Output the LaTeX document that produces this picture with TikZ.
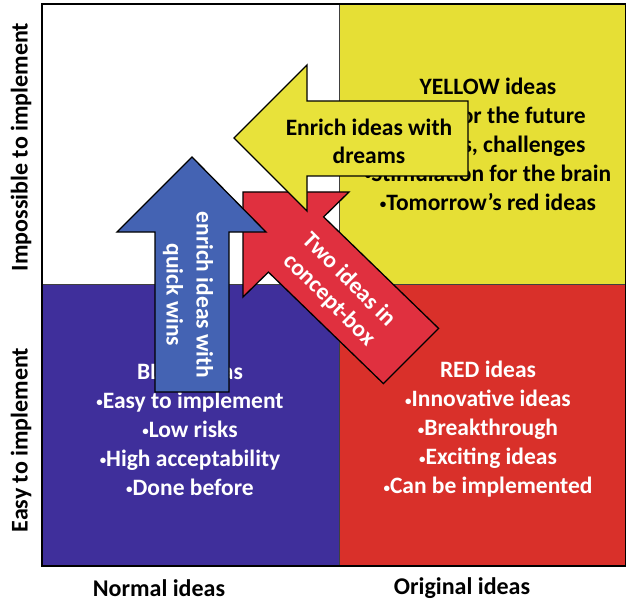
\documentclass[tikz,border=0pt]{standalone}
\usepackage{fontspec}
\setmainfont{Carlito}
\definecolor{qyellow}{HTML}{E6DF35}
\definecolor{qred}{HTML}{D9302A}
\definecolor{qblue}{HTML}{3F2F9B}
\definecolor{ayellow}{HTML}{E8E23A}
\definecolor{ared}{HTML}{E0303F}
\definecolor{ablue}{HTML}{4463B3}
\newcommand\bul{\raisebox{1.8pt}{\fontsize{13}{13}\selectfont •}}
\begin{document}
\begin{tikzpicture}[x=1pt,y=-1pt,
  quad/.style={draw=black!75,line width=0.8pt},
  bigarrow/.style={draw=black,line width=1.3pt,line join=miter},
  qtext/.style={align=center,font=\fontsize{23.5}{29}\selectfont\bfseries},
  atext/.style={align=center,font=\fontsize{23.5}{28}\selectfont\bfseries},
  axis/.style={font=\fontsize{24}{28}\selectfont\bfseries,text=black}]
\useasboundingbox (0,0) rectangle (626,604);
\fill[white] (0,0) rectangle (626,604);
% quadrants
\path[quad,fill=white] (42,4) rectangle (339,284);
\path[quad,fill=qyellow] (339,4) rectangle (626,284);
\path[quad,fill=qblue] (42,284) rectangle (339,566);
\path[quad,fill=qred] (339,284) rectangle (626,566);
\draw[line width=1.8pt] (42,4) rectangle (626,566);
% quadrant texts
\node[qtext,text=black] (ytext) at (488,144.5) {YELLOW ideas\\\bul Ideas for the future\\\bul Dreams, challenges\\\bul Stimulation for the brain\\\bul Tomorrow’s red ideas};
\node[qtext,text=white] (btext) at (190,429.5) {BLUE ideas\\\bul Easy to implement\\\bul Low risks\\\bul High acceptability\\\bul Done before};
\node[qtext,text=white] (rtext) at (488,429.5) {RED ideas\\\bul Innovative ideas\\\bul Breakthrough\\\bul Exciting ideas\\\bul Can be implemented};
% axis labels
\node[axis,rotate=90] (ylab1) at (21,147) {Impossible to implement};
\node[axis,rotate=90] (ylab2) at (21,440) {Easy to implement};
\node[axis] (xlab1) at (159,588) {Normal ideas};
\node[axis] (xlab2) at (462,588) {Original ideas};
% red arrow
\path[bigarrow,fill=ared] (243,192) -- (349,192) -- (323.6,216.9) -- (438.6,328.4) -- (383.4,383.6) -- (268.4,272.1) -- (243,297) -- cycle;
\node[atext,text=white,rotate=-45] (rlabel) at (339,290) {Two ideas in\\concept-box};
% yellow arrow
\path[bigarrow,fill=ayellow] (234,138) -- (307,65) -- (307,101) -- (468,101) -- (468,176) -- (307,176) -- (307,211) -- cycle;
\node[atext,text=black] (ylabel) at (369,141) {Enrich ideas with\\dreams};
% blue arrow
\path[bigarrow,fill=ablue] (192,157) -- (266,232) -- (229,232) -- (229,392) -- (155,392) -- (155,232) -- (117,232) -- cycle;
\node[atext,text=white,rotate=-90,font=\fontsize{23.5}{30}\selectfont\bfseries] (blabel) at (188,295) {enrich ideas with\\quick wins};
\end{tikzpicture}
\end{document}
